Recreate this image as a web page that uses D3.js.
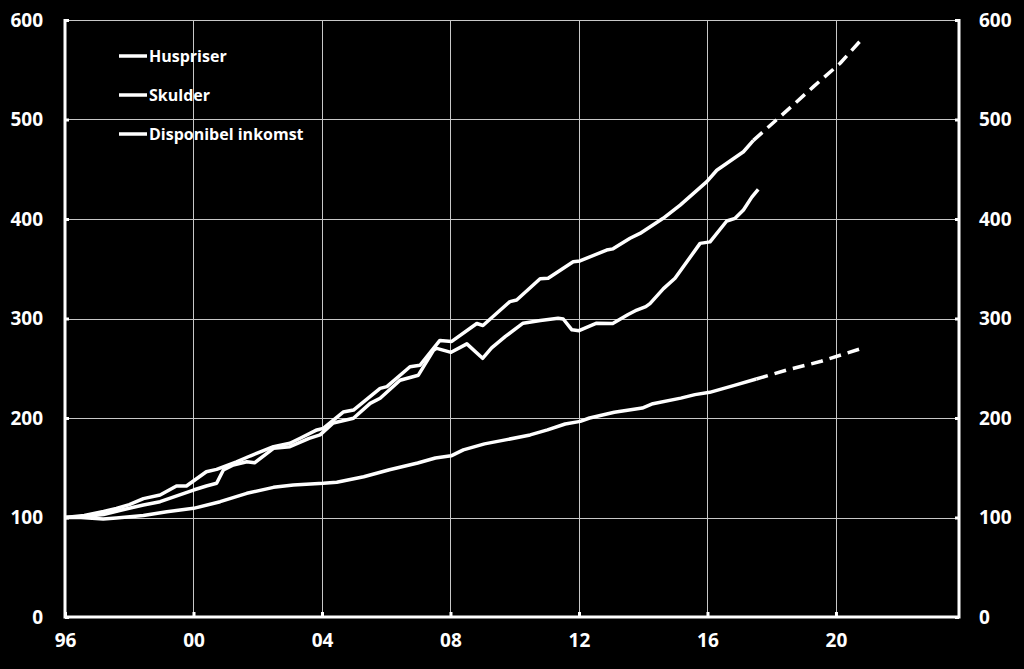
<!DOCTYPE html>
<html>
<head>
<meta charset="utf-8">
<script src="https://cdn.jsdelivr.net/npm/d3@7"></script>
<style>
  html, body { margin: 0; padding: 0; background: #000; }
  svg { display: block; }
  text { font-family: "Open Sans", "Liberation Sans", sans-serif; font-weight: 700; fill: #fff; }
</style>
</head>
<body>
<svg id="chart" width="1024" height="669"></svg>
<script>
// ---- Data (index, 1996 = 100) ----
const seriesNames = ["Huspriser", "Skulder", "Disponibel inkomst"];

const yTicks = [0, 100, 200, 300, 400, 500, 600];
const xTickYears = [1996, 2000, 2004, 2008, 2012, 2016, 2020];
const xTickLabels = ["96", "00", "04", "08", "12", "16", "20"];

// Huspriser (with dips in 2008 and 2012)
const huspriserT = [1996.0, 1996.6, 1997.2, 1997.7, 1998.44, 1998.96, 2000.0, 2000.4, 2000.72, 2000.93, 2001.24, 2001.66, 2001.9,
  2002.49, 2003.0, 2003.6, 2003.94, 2004.35, 2004.98, 2005.5, 2005.81, 2006.43, 2007.0, 2007.47, 2007.57, 2008.02, 2008.51,
  2009.0, 2009.28, 2009.71, 2010.26, 2010.8, 2011.35, 2011.51, 2011.78, 2012.0, 2012.55, 2013.05, 2013.53, 2013.8, 2014.08,
  2014.21, 2014.63, 2014.99, 2015.77, 2016.08, 2016.6, 2016.86, 2017.12, 2017.38, 2017.58];
const huspriserV = [100, 101, 103, 107, 112.6, 115.9, 127.6, 131.7, 134.4, 147.7, 152.8, 156, 155,
  169.5, 171.2, 179.6, 183, 195, 199.7, 214.7, 219.8, 238, 243, 268, 270, 266, 274.5,
  260, 270.4, 282, 295.3, 298, 300.3, 299.5, 288.6, 287.8, 295.3, 295, 304, 308.5, 312,
  315, 330, 340.4, 375.5, 377, 398, 400.7, 409, 422, 429.8];

// Skulder (actual)
const skulderT = [1996.0, 1996.6, 1997.2, 1997.6, 1998.0, 1998.44, 1998.96, 1999.47, 1999.78, 2000.4, 2000.72, 2001.34, 2001.76,
  2002.49, 2003.0, 2003.32, 2003.84, 2004.04, 2004.66, 2004.98, 2005.81, 2006.02, 2006.74, 2007.05, 2007.67, 2008.04, 2008.82,
  2009.01, 2009.85, 2010.06, 2010.79, 2011.04, 2011.82, 2012.03, 2012.86, 2013.06, 2013.59, 2013.9, 2014.62, 2015.15, 2015.98,
  2016.29, 2017.12, 2017.43];
const skulderV = [100, 102, 106, 109, 113, 119, 122.6, 131.7, 131.7, 146, 148.4, 156, 161.8,
  171.2, 174.6, 179.6, 188, 189.6, 206, 208, 229.8, 231.5, 251.5, 253, 278, 277, 295,
  293, 317, 318.6, 340, 340.5, 357, 357.8, 368.8, 370, 380.6, 385.5, 400.7, 414, 437.5,
  449, 467.6, 479];
// Skulder (forecast, dashed)
const skulderFcT = [2017.43, 2018.26, 2019.3, 2020.13, 2020.8];
const skulderFcV = [479, 502.8, 533, 556.5, 580.5];

// Disponibel inkomst (actual)
const inkomstT = [1996.0, 1996.5, 1997.19, 1997.6, 1998.44, 1999.17, 2000.0, 2000.83, 2001.66, 2002.49, 2003.11, 2004.04,
  2004.46, 2005.3, 2006.1, 2006.98, 2007.53, 2008.02, 2008.4, 2009.06, 2009.71, 2010.48, 2011.02, 2011.57, 2012.04,
  2012.33, 2013.1, 2013.97, 2014.3, 2015.17, 2015.61, 2016.07, 2016.81, 2017.52];
const inkomstV = [100, 100, 98.5, 99.5, 102, 105.8, 109.2, 115.9, 124.3, 130.3, 132.7, 134.4,
  135.5, 141, 148, 154.8, 159.8, 162, 168, 174, 178, 183, 188, 194, 196.6,
  200, 205.7, 210, 214.4, 220, 223.5, 225.8, 232.5, 239.2];
// Disponibel inkomst (forecast, dashed)
const inkomstFcT = [2017.52, 2018.45, 2019.54, 2020.85];
const inkomstFcV = [239.2, 248, 257, 270.4];

// ---- Layout ----
(function () {
  const svg = d3.select("#chart");
  svg.append("rect").attr("width", 1024).attr("height", 669).attr("fill", "#000");

  const pL = 65, pR = 959, pT = 20, pB = 617;
  const x = d3.scaleLinear().domain([1996, 2023.83]).range([pL, pR]);
  const y = d3.scaleLinear().domain([0, 600]).range([pB, pT]);

  // Gridlines
  const grid = svg.append("g").attr("stroke", "#c8c8c8").attr("stroke-width", 1);
  grid.selectAll("line.h").data(yTicks.filter(d => d > 0)).join("line")
    .attr("x1", pL).attr("x2", pR)
    .attr("y1", d => Math.round(y(d)) + 0.5).attr("y2", d => Math.round(y(d)) + 0.5);
  grid.selectAll("line.v").data(xTickYears.filter(d => d > 1996)).join("line")
    .attr("y1", pT).attr("y2", pB)
    .attr("x1", d => Math.round(x(d)) + 0.5).attr("x2", d => Math.round(x(d)) + 0.5);

  const axisStyle = g => {
    g.select(".domain").remove();
    g.selectAll(".tick line").attr("stroke", "#fff").attr("stroke-width", 3);
    g.selectAll(".tick text").attr("fill", "#fff").style("font-size", "19px")
      .style("font-family", '"Open Sans", "Liberation Sans", sans-serif').style("font-weight", 700);
  };

  svg.append("g").attr("transform", `translate(${pL},0)`)
    .call(d3.axisRight(y).tickValues(yTicks).tickSize(4).tickFormat(""))
    .call(axisStyle);
  svg.append("g").attr("transform", `translate(${pR},0)`)
    .call(d3.axisLeft(y).tickValues(yTicks).tickSize(4).tickFormat(""))
    .call(axisStyle);
  svg.append("g").attr("transform", `translate(0,${pB})`)
    .call(d3.axisTop(x).tickValues(xTickYears).tickSize(5).tickFormat(""))
    .call(axisStyle);

  // Tick labels
  svg.append("g").attr("transform", `translate(43,0)`)
    .call(d3.axisLeft(y).tickValues(yTicks).tickSize(0).tickPadding(0).tickFormat(d3.format("d")))
    .call(axisStyle);
  svg.append("g").attr("transform", `translate(979,0)`)
    .call(d3.axisRight(y).tickValues(yTicks).tickSize(0).tickPadding(0).tickFormat(d3.format("d")))
    .call(axisStyle);
  svg.append("g").attr("transform", `translate(0,633)`)
    .call(d3.axisBottom(x).tickValues(xTickYears).tickSize(0).tickPadding(0)
      .tickFormat((d, i) => xTickLabels[i]))
    .call(axisStyle);

  // Axis frame (left, bottom, right)
  svg.append("path").attr("d", `M${pL},${pT - 1}V${pB}H${pR}V${pT - 1}`)
    .attr("stroke", "#fff").attr("stroke-width", 3).attr("fill", "none");

  // Lines
  const line = d3.line().x(d => x(d[0])).y(d => y(d[1]));
  const zip = (t, v) => t.map((tt, i) => [tt, v[i]]);

  const lines = svg.append("g").attr("fill", "none").attr("stroke", "#fff")
    .attr("stroke-width", 3.5).attr("stroke-linejoin", "round");

  lines.append("path").attr("d", line(zip(inkomstT, inkomstV)));
  lines.append("path").attr("d", line(zip(huspriserT, huspriserV)));
  lines.append("path").attr("d", line(zip(skulderT, skulderV)));
  lines.append("path").attr("d", line(zip(skulderFcT, skulderFcV))).attr("stroke-dasharray", "12,7");
  lines.append("path").attr("d", line(zip(inkomstFcT, inkomstFcV))).attr("stroke-dasharray", "12,7");

  // Legend
  const legendY = [56, 95, 134];
  const legend = svg.append("g");
  seriesNames.forEach((name, i) => {
    legend.append("line").attr("x1", 119).attr("x2", 147)
      .attr("y1", legendY[i]).attr("y2", legendY[i])
      .attr("stroke", "#fff").attr("stroke-width", 3.5);
    legend.append("text").attr("x", 149).attr("y", legendY[i]).attr("dy", "0.36em")
      .style("font-size", "16px").text(name);
  });
})();
</script>
</body>
</html>
